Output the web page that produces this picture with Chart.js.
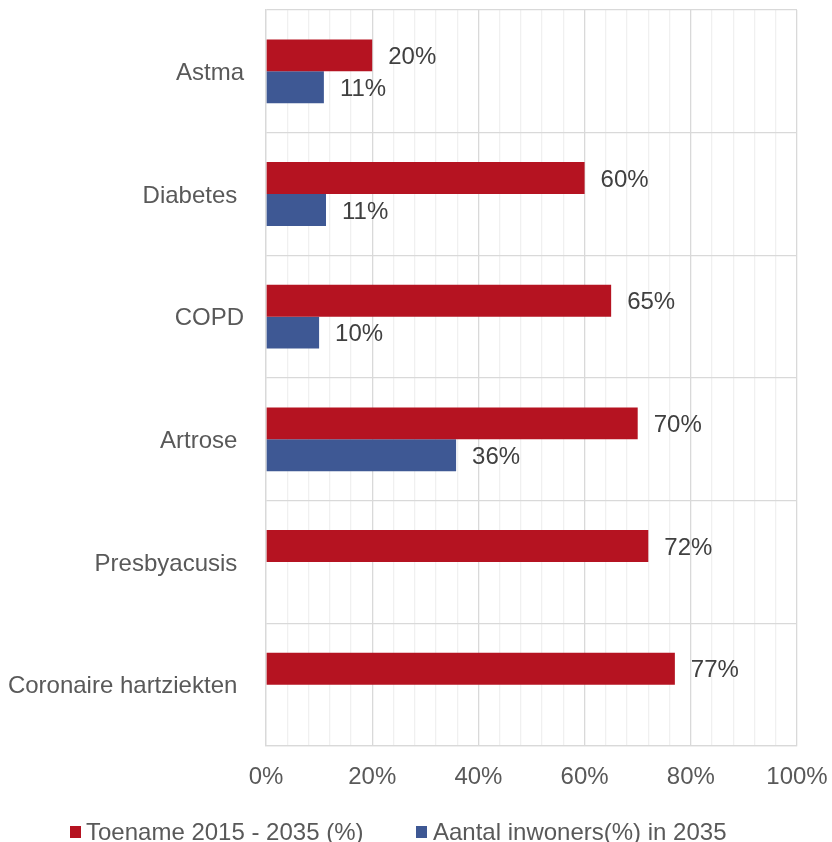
<!DOCTYPE html>
<html>
<head>
<meta charset="utf-8">
<script src="https://cdn.jsdelivr.net/npm/chart.js@4"></script>
<style>
  html, body { margin: 0; padding: 0; background: #fff; }
  #wrap { position: relative; width: 832px; height: 842px; }
  #legend {
    position: absolute; left: 0; top: 0; width: 832px; height: 842px;
    font: 24px/24px "Liberation Sans", Arial, sans-serif; color: #595959;
    white-space: nowrap; pointer-events: none;
  }
  #legend span, #legend i { position: absolute; }
  #legend i { width: 11px; height: 12px; top: 826px; }
  #legend span { top: 820px; }
</style>
</head>
<body>
<div id="wrap">
  <canvas id="chart" width="832" height="842"></canvas>
  <div id="legend"></div>
</div>
<script>
const categories = ["Astma", "Diabetes ", "COPD", "Artrose ", "Presbyacusis ", "Coronaire hartziekten "]
const toename = [20, 60, 65, 70, 72, 77]
const inwoners = [10.9, 11.3, 10, 35.8, null, null]
const seriesNames = ["Toename 2015 - 2035 (%)", "Aantal inwoners(%) in 2035"]
const xTicks = [0, 20, 40, 60, 80, 100]

const RED = "#b51321"
const BLUE = "#3e5894"
const FONT = "'Liberation Sans', Arial, sans-serif"

// labels right of each bar
const barLabels = {
  id: "barLabels",
  afterDatasetsDraw(chart) {
    const ctx = chart.ctx
    ctx.save()
    ctx.font = "24px " + FONT
    ctx.fillStyle = "#404040"
    ctx.textAlign = "left"
    ctx.textBaseline = "middle"
    chart.data.datasets.forEach((ds, i) => {
      chart.getDatasetMeta(i).data.forEach((bar, j) => {
        const v = ds.data[j]
        if (v == null) return
        ctx.fillText(Math.round(v) + "%", bar.x + 16, bar.y + 2)
      })
    })
    ctx.restore()
  }
}

const noPad = s => {
  s.paddingTop = 0
  s.paddingBottom = 0
  s.paddingLeft = 0
  s.paddingRight = 0
}

const chart = new Chart(document.getElementById("chart"), {
  type: "bar",
  data: {
    labels: categories,
    datasets: [
      { label: seriesNames[0], data: toename, backgroundColor: RED },
      { label: seriesNames[1], data: inwoners, backgroundColor: BLUE }
    ]
  },
  options: {
    indexAxis: "y",
    responsive: false,
    animation: false,
    events: [],
    categoryPercentage: 0.52,
    barPercentage: 1,
    layout: { padding: { top: 10, right: 35, left: 0, bottom: 0 } },
    plugins: {
      legend: { display: false },
      tooltip: { enabled: false }
    },
    scales: {
      x: {
        min: 0,
        max: 100,
        afterFit: s => { s.height = 96; noPad(s) },
        afterBuildTicks: s => {
          const t = []
          for (let v = 0; v <= 100; v += 4) t.push({ value: v })
          s.ticks = t
        },
        ticks: {
          autoSkip: false,
          maxRotation: 0,
          padding: 17,
          color: "#595959",
          font: { family: FONT, size: 24 },
          callback: v => xTicks.includes(v) ? v + "%" : ""
        },
        grid: {
          drawTicks: false,
          color: c => (c.tick && c.tick.value % 20 === 0) ? "#d9d9d9" : "#f0f0f0",
          lineWidth: 1.3
        },
        border: { color: "#d9d9d9", width: 1.3 }
      },
      y: {
        afterFit: s => { s.width = 266; noPad(s) },
        ticks: {
          padding: 22,
          labelOffset: 2,
          color: "#595959",
          font: { family: FONT, size: 24 }
        },
        grid: { drawTicks: false, color: "#d9d9d9", lineWidth: 1.3 },
        border: { color: "#d9d9d9", width: 1.3 }
      }
    }
  },
  plugins: [barLabels]
})

// legend below the chart
const legend = document.getElementById("legend")
const boxX = [70, 416]
const textX = [86, 433]
chart.data.datasets.forEach((ds, i) => {
  const box = document.createElement("i")
  box.style.left = boxX[i] + "px"
  box.style.background = ds.backgroundColor
  const txt = document.createElement("span")
  txt.style.left = textX[i] + "px"
  txt.textContent = ds.label
  legend.appendChild(box)
  legend.appendChild(txt)
})
</script>
</body>
</html>
